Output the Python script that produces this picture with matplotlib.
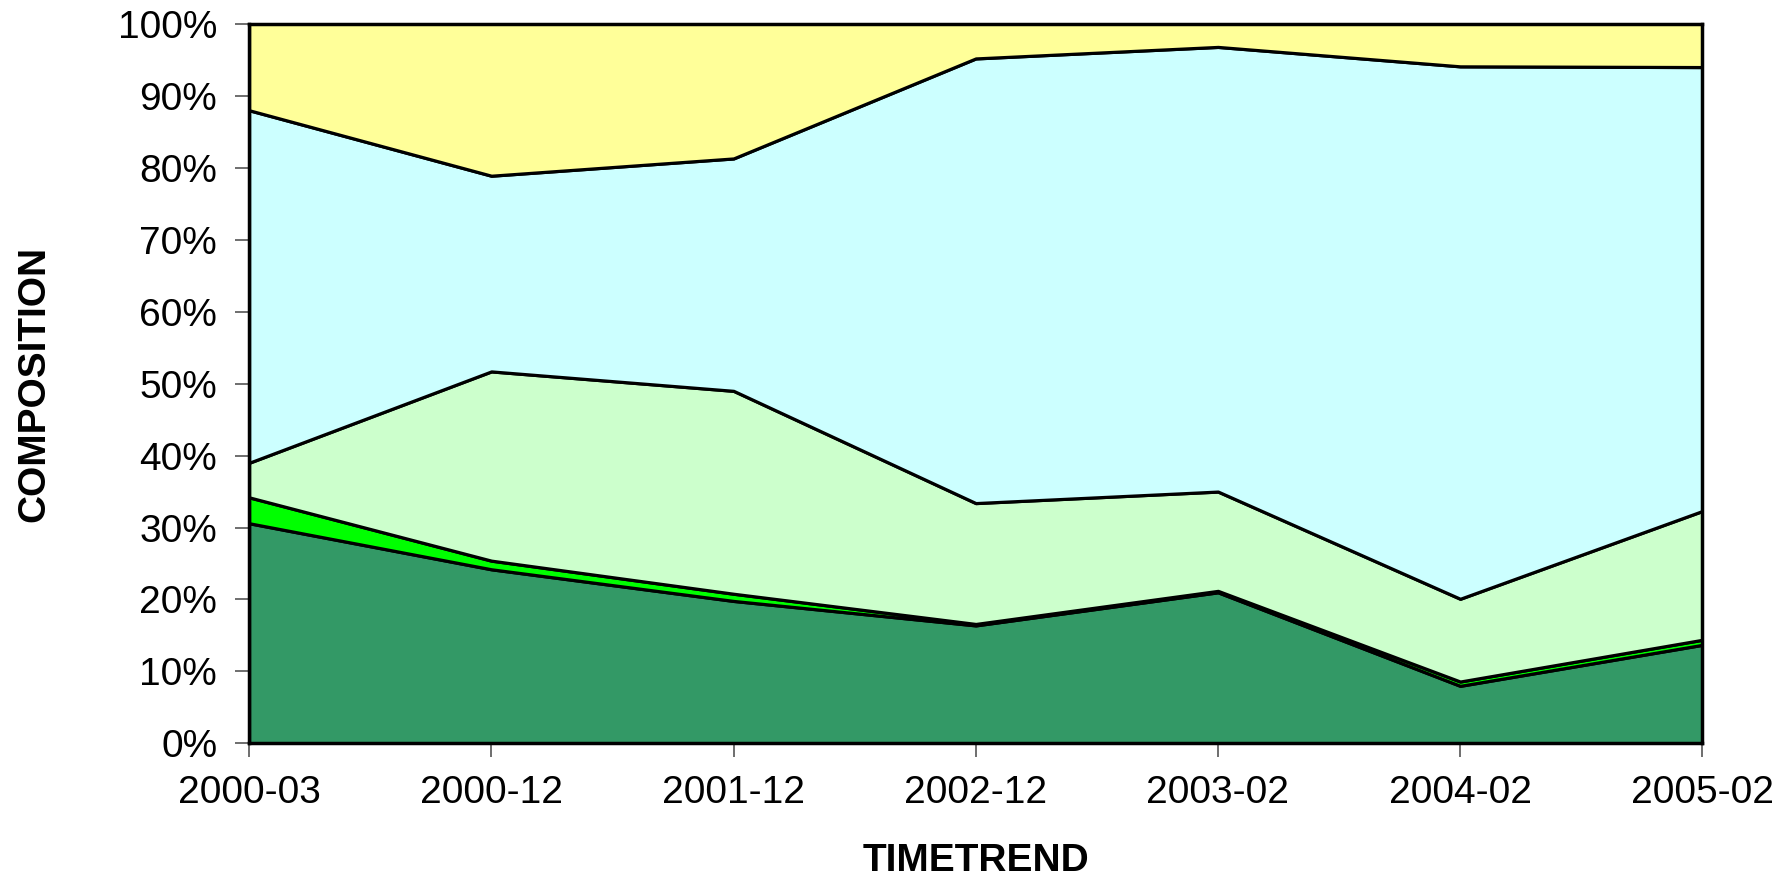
import numpy as np
import matplotlib.pyplot as plt
from matplotlib.ticker import PercentFormatter

plt.rcParams['font.family'] = ['Liberation Sans', 'DejaVu Sans']

periods = ['2000-03', '2000-12', '2001-12', '2002-12', '2003-02', '2004-02', '2005-02']

# composition shares in percent, bottom layer first
dark_green = [30.6, 24.2, 19.8, 16.4, 21.0, 8.0, 13.7]
bright_green = [3.6, 1.2, 1.0, 0.2, 0.2, 0.6, 0.7]
light_green = [4.8, 26.3, 28.2, 16.8, 13.8, 11.5, 17.9]
light_cyan = [49.0, 27.2, 32.3, 61.8, 61.8, 74.0, 61.7]
yellow = [12.0, 21.1, 18.7, 4.8, 3.2, 5.9, 6.0]

colors = ['#339966', '#00FF00', '#CCFFCC', '#CCFFFF', '#FFFF99']

fig = plt.figure(figsize=(17.92, 8.85), dpi=100)
ax = fig.add_axes([0.139, 0.160, 0.811, 0.813])

x = np.arange(len(periods))
ax.stackplot(x, dark_green, bright_green, light_green, light_cyan, yellow,
             colors=colors, edgecolor='black', linewidth=2.3)

ax.set_xlim(0, len(periods) - 1)
ax.set_ylim(0, 100)
ax.set_xticks(x)
ax.set_xticklabels(periods)
ax.set_yticks(np.arange(0, 101, 10))
ax.yaxis.set_major_formatter(PercentFormatter(decimals=0))

ax.tick_params(axis='both', direction='out', length=10, width=1.2,
               color='#555555', labelsize=28, pad=13)

for s in ax.spines.values():
    s.set_linewidth(2.5)
    s.set_color('black')

ax.set_xlabel('TIMETREND', fontsize=28, fontweight='bold')
ax.set_ylabel('COMPOSITION', fontsize=28, fontweight='bold')
ax.xaxis.set_label_coords(0.5, -0.164)
ax.yaxis.set_label_coords(-0.148, 0.5)
ax.xaxis.label.set_va('center')
ax.yaxis.label.set_va('center')

fig.savefig('out.png', dpi=100)
